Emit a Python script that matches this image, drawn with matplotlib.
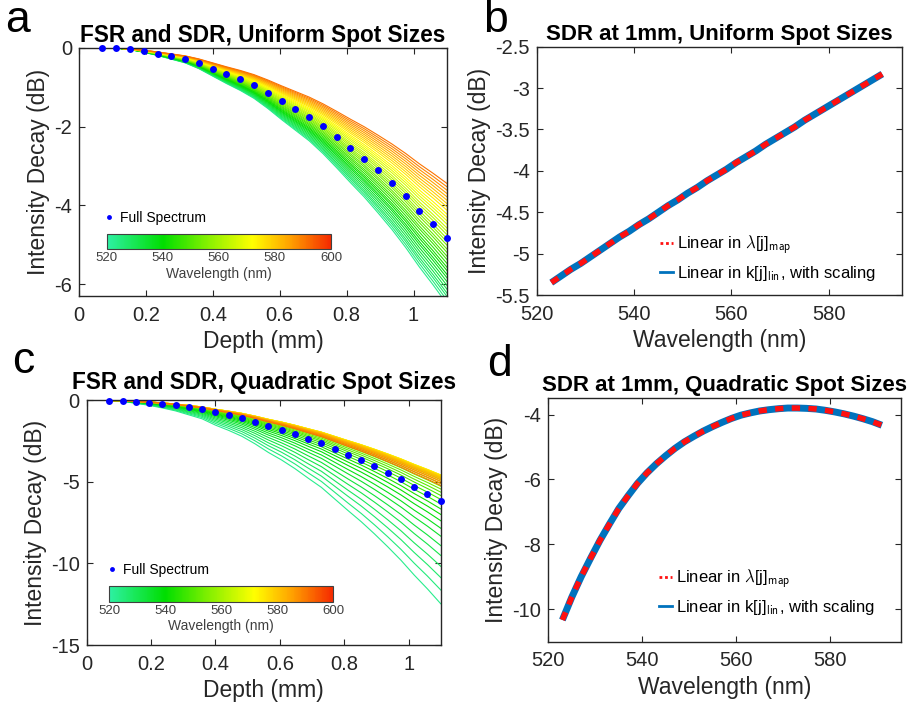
import matplotlib.pyplot as plt
import numpy as np
from matplotlib.cm import ScalarMappable
from matplotlib.colors import LinearSegmentedColormap, Normalize
from matplotlib.lines import Line2D
from matplotlib.ticker import FuncFormatter

plt.rcParams['font.family'] = ['Liberation Sans', 'DejaVu Sans']
plt.rcParams['axes.unicode_minus'] = False
plt.rcParams['mathtext.fontset'] = 'cm'

# depth samples of the full-spectrum roll-off (mm)
depth_mm = np.linspace(0.07, 1.1, 26)

# full-spectrum roll-off, uniform spot sizes (dB)
fsr_uniform = [0.0, 0.0, -0.03, -0.08, -0.14, -0.21, -0.28, -0.39, -0.53, -0.67,
               -0.80, -0.95, -1.14, -1.35, -1.55, -1.75, -1.99, -2.26, -2.54, -2.81,
               -3.11, -3.42, -3.76, -4.13, -4.47, -4.83]

# full-spectrum roll-off, quadratic spot sizes (dB)
fsr_quadratic = [-0.04, -0.04, -0.10, -0.16, -0.24, -0.33, -0.45, -0.57, -0.76, -0.92,
                 -1.10, -1.33, -1.59, -1.82, -2.08, -2.37, -2.65, -3.00, -3.35, -3.69,
                 -4.06, -4.45, -4.86, -5.31, -5.73, -6.18]

# spectral channels (nm)
wavelength_nm = list(range(523, 592, 2))

# spectrally dependent roll-off at 1 mm (dB)
sdr_uniform = [-5.35, -5.27, -5.19, -5.12, -5.04, -4.96, -4.88, -4.80, -4.73, -4.65,
               -4.58, -4.50, -4.42, -4.35, -4.27, -4.20, -4.12, -4.05, -3.98, -3.90,
               -3.83, -3.76, -3.68, -3.61, -3.54, -3.47, -3.39, -3.32, -3.25, -3.18,
               -3.11, -3.04, -2.97, -2.90, -2.83]
sdr_quadratic = [-10.33, -9.63, -9.00, -8.43, -7.88, -7.38, -6.90, -6.50, -6.12, -5.80,
                 -5.52, -5.27, -5.04, -4.84, -4.67, -4.51, -4.37, -4.24, -4.12, -4.02,
                 -3.95, -3.89, -3.85, -3.82, -3.80, -3.80, -3.81, -3.83, -3.87, -3.92,
                 -3.98, -4.05, -4.13, -4.22, -4.33]

cbar_ticks = [520, 540, 560, 580, 600]

cmap = LinearSegmentedColormap.from_list('wl', [
    (0.0, '#2ef0a4'), (0.25, '#00de00'), (0.45, '#86f000'),
    (0.65, '#ffff00'), (0.82, '#ffa000'), (1.0, '#f52a00')])
norm = Normalize(520, 600)

TXT = '#262626'
fmt = FuncFormatter(lambda v, pos: '%g' % v)

fig = plt.figure(figsize=(9.15, 7.10), dpi=100)


def style_axes(ax):
    for s in ax.spines.values():
        s.set_color(TXT)
        s.set_linewidth(1.0)
    ax.tick_params(direction='in', top=True, right=True, length=4.5, width=0.8,
                   labelsize=14.5, colors=TXT)
    ax.tick_params(axis='x', pad=7)
    ax.tick_params(axis='y', pad=5)
    ax.xaxis.set_major_formatter(fmt)
    ax.yaxis.set_major_formatter(fmt)


def rolloff_panel(rect, fsr, sdr, ylim, yticks, title, title_pad, cbar_rect, leg_xy):
    ax = fig.add_axes(rect)
    shape = np.asarray(fsr) / np.interp(1.0, depth_mm, fsr)
    for wl, s in zip(wavelength_nm, sdr):
        ax.plot(depth_mm, s * shape, color=cmap(norm(wl)), lw=0.8, zorder=2)
    dots, = ax.plot(depth_mm, fsr, 'o', color='#0000ff', ms=5, mec='none',
                    zorder=4, clip_on=False, label='Full Spectrum')
    ax.set_xlim(0, 1.1)
    ax.set_ylim(*ylim)
    ax.set_xticks([0, 0.2, 0.4, 0.6, 0.8, 1.0])
    ax.set_yticks(yticks)
    style_axes(ax)
    ax.set_xlabel('Depth (mm)', fontsize=16.5, color=TXT, labelpad=4)
    ax.set_ylabel('Intensity Decay (dB)', fontsize=16.5, color=TXT, labelpad=3)
    ax.set_title(title, fontsize=16.3, fontweight='bold', pad=title_pad)

    fig.legend(handles=[dots], loc='center left', bbox_to_anchor=leg_xy,
               frameon=False, fontsize=10, markerscale=0.7, handlelength=0.8,
               handletextpad=0.4, borderpad=0, borderaxespad=0)

    cax = fig.add_axes(cbar_rect)
    cb = fig.colorbar(ScalarMappable(norm=norm, cmap=cmap), cax=cax,
                      orientation='horizontal', ticks=cbar_ticks)
    cb.ax.tick_params(length=0, labelsize=9.5, pad=2, colors='#404040')
    cb.set_label('Wavelength (nm)', fontsize=10, color='#404040', labelpad=2)
    cb.outline.set_edgecolor('#404040')
    cb.outline.set_linewidth(0.8)
    return ax


def sdr_panel(rect, sdr, ylim, yticks, title, leg_xy):
    ax = fig.add_axes(rect)
    ax.plot(wavelength_nm, sdr, color='#0072bd', lw=5, solid_capstyle='butt', zorder=2)
    red, = ax.plot(wavelength_nm, sdr, color='#ff1010', lw=4, zorder=3)
    red.set_dashes([1.5, 1.5])
    ax.set_xlim(520, 595)
    ax.set_ylim(*ylim)
    ax.set_xticks([520, 540, 560, 580])
    ax.set_yticks(yticks)
    style_axes(ax)
    ax.set_xlabel('Wavelength (nm)', fontsize=16.5, color=TXT, labelpad=4)
    ax.set_ylabel('Intensity Decay (dB)', fontsize=16.5, color=TXT, labelpad=3)
    ax.set_title(title, fontsize=16, fontweight='bold', pad=5)

    handles = [Line2D([], [], color='#ff1010', lw=2, ls=(0, (1, 1))),
               Line2D([], [], color='#0072bd', lw=2)]
    labels = [r'Linear in $\lambda$[j]$_{\mathsf{map}}$',
              r'Linear in k[j]$_{\mathsf{lin}}$, with scaling']
    fig.legend(handles, labels, loc='center left', bbox_to_anchor=leg_xy,
               frameon=False, fontsize=12, handlelength=0.8, handletextpad=0.2,
               labelspacing=0.4, borderpad=0, borderaxespad=0)
    return ax


rolloff_panel([0.0863, 0.5831, 0.4022, 0.3493], fsr_uniform, sdr_uniform,
              (-6.3, 0), [-6, -4, -2, 0], 'FSR and SDR, Uniform Spot Sizes', 4,
              [0.1169, 0.6493, 0.2448, 0.0211], (103.5 / 915, 1 - 218 / 710))
rolloff_panel([0.0948, 0.0915, 0.3869, 0.3451], fsr_quadratic, sdr_quadratic,
              (-15, 0), [-15, -10, -5, 0], 'FSR and SDR, Quadratic Spot Sizes', 8,
              [0.1191, 0.1525, 0.2448, 0.0225], (106 / 915, 1 - 570 / 710))
sdr_panel([0.5866, 0.5845, 0.3989, 0.3497], sdr_uniform, (-5.5, -2.5),
          [-5.5, -5, -4.5, -4, -3.5, -3, -2.5], 'SDR at 1mm, Uniform Spot Sizes',
          (660 / 915, 1 - 258 / 710))
sdr_panel([0.5992, 0.0962, 0.3851, 0.3428], sdr_quadratic, (-11, -3.5),
          [-10, -8, -6, -4], 'SDR at 1mm, Quadratic Spot Sizes',
          (659 / 915, 1 - 592 / 710))

for letter, x, y in [('a', 5, 32), ('b', 483, 32), ('c', 12, 373), ('d', 487, 376)]:
    fig.text(x / 915, 1 - y / 710, letter, fontsize=32, va='baseline', ha='left')

fig.savefig('out.png', dpi=100)
